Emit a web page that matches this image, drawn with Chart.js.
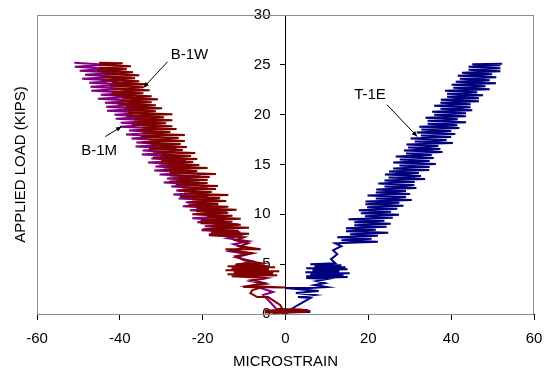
<!DOCTYPE html>
<html>
<head>
<meta charset="utf-8">
<script src="https://cdn.jsdelivr.net/npm/chart.js@4.4.1/dist/chart.umd.min.js"></script>
<style>
  html, body { margin: 0; padding: 0; background: #fff; }
</style>
</head>
<body>
<canvas id="chart" width="544" height="371"></canvas>
<script>
// Axis ticks
const strainTicks = [-60, -40, -20, 0, 20, 40, 60];
const loadTicks = [0, 5, 10, 15, 20, 25, 30];

// Gauge B-1W  [microstrain, load kips]
const b1wPoints = [
  [0,0],[-3,0.1],[5,0.2],[-5,0.15],[6,0.3],[-4.5,0.25],[5.5,0.4],[-5,0.35],[4,0.45],[-2,0.5],
  [-0.6,0.4],[-1.3,0.9],[-4.2,1.7],[-6.8,1.7],[-8.5,2.1],[-8,2.4],[-5.4,2.7],[-10.2,2.7],[0,2.65],
  [-9,2.8],[-5,3.1],[-8,3.4],[-4.5,3.6],[-13,3.8],[-2,3.9],[-14,4.0],[-3,4.1],[-12.5,4.2],[-1.5,4.3],
  [-14.5,4.4],[-4,4.5],[-13,4.6],[-2.5,4.7],[-14,4.8],[-5,4.9],[-12,5.0],[-6,5.1],[-10,5.4],[-12,5.8],
  [-8,6.1],[-13,6.4],[-14.5,6.5],[-6,6.5],[-11,6.8],[-9,7.1],[-12,7.4],[-10,7.7],
  [-18.5,7.9],[-8.8,8.05],[-18,8.2],[-11.3,8.35],[-20,8.5],[-8.8,8.65],[-18,8.8],[-10.8,8.95],
  [-20.5,9.1],[-12.8,9.25],[-20.5,9.4],[-10.8,9.55],[-19,9.7],[-12.8,9.85],[-22.5,10.0],[-13.8,10.15],
  [-21.5,10.3],[-11.8,10.45],[-21.5,10.6],[-13.8,10.75],[-23.5,10.9],[-16.3,11.05],[-23.5,11.2],[-14.3,11.35],
  [-22.5,11.5],[-15.8,11.65],[-25.5,11.8],[-13.8,11.95],[-24.5,12.1],[-17.8,12.25],[-26,12.4],[-16.8,12.55],
  [-25,12.7],[-16.3,12.85],[-26.5,13.0],[-18.8,13.15],[-28,13.3],[-18.8,13.45],[-26,13.6],[-18.3,13.75],
  [-28,13.9],[-16.8,14.05],[-28,14.2],[-21.3,14.35],[-29.5,14.5],[-18.8,14.65],[-28.5,14.8],[-20.8,14.95],
  [-30.5,15.1],[-22.3,15.25],[-30,15.4],[-21.3,15.55],[-32,15.7],[-22.8,15.85],[-30,16.0],[-21.8,16.15],
  [-32,16.3],[-24.8,16.45],[-33,16.6],[-23.8,16.75],[-32.5,16.9],[-25.3,17.05],[-34.5,17.2],[-24.3,17.35],
  [-33,17.5],[-25.8,17.65],[-35,17.8],[-24.3,17.95],[-34.5,18.1],[-27.8,18.25],[-35.5,18.4],[-26.3,18.55],
  [-34.5,18.7],[-27.3,18.85],[-37,19.0],[-28.8,19.15],[-36.5,19.3],[-27.3,19.45],[-36.5,19.6],[-29.3,19.75],
  [-38.5,19.9],[-27.3,20.05],[-38,20.2],[-31.3,20.35],[-39,20.5],[-29.8,20.65],[-38.5,20.8],[-31.3,20.95],
  [-40.5,21.1],[-32.3,21.25],[-40,21.4],[-30.8,21.55],[-39.5,21.7],[-32.3,21.85],[-42,22.0],[-34.3,22.15],
  [-42,22.3],[-32.8,22.45],[-41.5,22.6],[-34.3,22.75],[-42.5,22.9],[-33.3,23.05],[-42,23.2],[-35.3,23.35],
  [-44.5,23.5],[-36.3,23.65],[-44,23.8],[-35.3,23.95],[-44,24.1],[-36.8,24.25],[-45.5,24.4],[-38.3,24.55],
  [-45,24.7],[-37.3,24.85],[-45,25.0],[-39.3,25.15],[-45,25.2]
];

// Gauge B-1M
const b1mPoints = [
  [0,0],[-2,0.4],[-3.5,1.1],[-5.4,1.9],[-3,2.2],[-6,2.6],[-9,2.8],[-5,3.0],[-8.5,3.3],[-4.5,3.6],
  [-12,3.9],[-3,4.2],[-13,4.5],[-4,4.8],[-11,5.0],[-8,5.3],[-12,5.7],[-9,6.0],[-13.5,6.3],[-10,6.7],
  [-12.5,7.0],[-9,7.3],[-14,7.6],[-11,7.9],
  [-18.5,8.0],[-10.9,8.2],[-20.3,8.4],[-12.6,8.6],[-19.5,8.8],[-11.4,9.0],[-21.3,9.2],[-14.7,9.4],
  [-22.5,9.6],[-13.9,9.8],[-21.3,10.0],[-14.2,10.2],[-23.1,10.4],[-15.9,10.6],[-24.8,10.8],[-16.2,11.0],
  [-24.1,11.2],[-16,11.4],[-25.8,11.6],[-18.7,11.8],[-27.1,12.0],[-18.5,12.2],[-26.4,12.4],[-18.7,12.6],
  [-27.6,12.8],[-21,13.0],[-29.4,13.2],[-20.8,13.4],[-28.6,13.6],[-20.5,13.8],[-30.4,14.0],[-22.8,14.2],
  [-31.7,14.4],[-23,14.6],[-31.4,14.8],[-24.8,15.0],[-33.2,15.2],[-24.1,15.4],[-32.4,15.6],[-25.3,15.8],
  [-34.7,16.0],[-27.1,16.2],[-34.5,16.4],[-26.3,16.6],[-36.2,16.8],[-28.1,17.0],[-36,17.2],[-28.4,17.4],
  [-37.2,17.6],[-30.1,17.8],[-38.5,18.0],[-29.4,18.2],[-37.8,18.4],[-30.6,18.6],[-40,18.8],[-32.4,19.0],
  [-39.8,19.2],[-31.2,19.4],[-41,19.6],[-33.4,19.8],[-41.3,20.0],[-33.7,20.2],[-43.1,20.4],[-35.4,20.6],
  [-43.3,20.8],[-34.7,21.0],[-43.6,21.2],[-36.5,21.4],[-45.3,21.6],[-36.7,21.8],[-44.6,22.0],[-37,22.2],
  [-46.9,22.4],[-39.2,22.6],[-47.1,22.8],[-39,23.0],[-47.4,23.2],[-40.3,23.4],[-49.1,23.6],[-40.5,23.8],
  [-48.4,24.0],[-40.8,24.2],[-49.7,24.4],[-43,24.6],[-50.9,24.8],[-43.3,25.0],[-51,25.2]
];

// Gauge T-1E
const t1ePoints = [
  [0,0],[1,0.3],[3,0.2],[6,0.2],[2,0.3],[1.5,0.5],[3,0.9],[6,1.6],[3,1.7],[7,1.9],[2.5,2.1],[8,2.3],
  [4,2.45],[0,2.6],[6,2.6],[10,2.7],[7,2.9],[9.5,3.1],[7.5,3.3],[10,3.5],[5,3.6],
  [15,3.7],[5,3.8],[14,3.9],[6,4.0],[15.5,4.1],[4.8,4.2],[13,4.3],[6.5,4.4],[15,4.5],[5,4.6],
  [14.5,4.7],[7,4.8],[13.5,4.9],[6,5.0],[12,5.1],[11,5.5],[12.5,6.0],[11.5,6.4],[13.5,6.8],[12.5,7.0],
  [12,7.1],[22.3,7.25],[13.5,7.4],[20.8,7.55],[12.5,7.7],[22.3,7.85],[15.6,8.0],[24.8,8.15],
  [14.6,8.3],[21.8,8.45],[14.6,8.6],[24.4,8.75],[16.6,8.9],[25.4,9.05],[16.6,9.2],[23.9,9.35],
  [15.2,9.5],[25.9,9.65],[19.2,9.8],[27.4,9.95],[18.2,10.1],[25.5,10.25],[17.7,10.4],[27,10.55],
  [19.7,10.7],[28.5,10.85],[19.3,11.0],[27.5,11.15],[19.3,11.3],[30.5,11.45],[21.8,11.6],[29.1,11.75],
  [19.8,11.9],[30.1,12.05],[21.8,12.2],[29.1,12.35],[21.9,12.5],[31.6,12.65],[23.9,12.8],[31.1,12.95],
  [22.4,13.1],[31.2,13.25],[23.9,13.4],[33.7,13.55],[24.9,13.7],[32.7,13.85],[24,14.0],[32.2,14.15],
  [25,14.3],[34.7,14.45],[26,14.6],[34.8,14.75],[27.5,14.9],[36.3,15.05],[26,15.2],[34.8,15.35],
  [27.6,15.5],[35.8,15.65],[26.6,15.8],[35.3,15.95],[29.1,16.1],[37.9,16.25],[28.6,16.4],[37.4,16.55],
  [29.6,16.7],[36.9,16.85],[29.2,17.0],[40.4,17.15],[31.2,17.3],[38.9,17.45],[30.2,17.6],[40,17.75],
  [32.7,17.9],[41,18.05],[31.7,18.2],[40,18.35],[32.8,18.5],[42,18.65],[32.3,18.8],[41.5,18.95],
  [34.3,19.1],[43.6,19.25],[34.3,19.4],[41.6,19.55],[33.8,19.7],[43.6,19.85],[35.9,20.0],[43.6,20.15],
  [35.4,20.3],[45.1,20.45],[37.4,20.6],[44.7,20.75],[35.9,20.9],[44.7,21.05],[37.4,21.2],[46.7,21.35],
  [37.5,21.5],[46.7,21.65],[39,21.8],[47.7,21.95],[39,22.1],[46.3,22.25],[38.5,22.4],[49.3,22.55],
  [40.5,22.7],[48.3,22.85],[40.1,23.0],[50.8,23.15],[41.1,23.3],[49.3,23.45],[42.1,23.6],[50.9,23.75],
  [41.6,23.9],[49.9,24.05],[42.6,24.2],[51.9,24.35],[44.2,24.5],[51.9,24.65],[44.2,24.8],[51.9,24.95],
  [45.1,25.05],[52.3,25.1]
];

// Callout labels: text position and arrow (from -> to), in data units
const callouts = [
  { text: "B-1W", at: [-23.2, 26.0], from: [-28.5, 25.3], to: [-34.3, 22.7] },
  { text: "B-1M", at: [-45.0, 16.4], from: [-43.5, 17.8], to: [-39.6, 18.8] },
  { text: "T-1E", at: [20.4, 22.0], from: [24.5, 21.0], to: [31.8, 17.8] },
];

const FONT = "'Liberation Sans', Arial, sans-serif";

function toXY(points) {
  return points.map((p) => ({ x: p[0], y: p[1] }));
}

// plot frame, y title and callouts
const extras = {
  id: "extras",
  beforeDatasetsDraw(chart) {
    const { ctx, chartArea } = chart;
    ctx.save();
    ctx.strokeStyle = "#8c8c8c";
    ctx.lineWidth = 1;
    ctx.strokeRect(chartArea.left + 0.5, chartArea.top + 0.5,
      chartArea.right - chartArea.left - 1, chartArea.bottom - chartArea.top);
    ctx.restore();
  },
  afterDraw(chart) {
    const { ctx, chartArea, scales } = chart;
    const sx = scales.x, sy = scales.y;
    ctx.save();
    ctx.fillStyle = "#000";
    ctx.font = "15px " + FONT;

    // y axis title
    ctx.save();
    ctx.translate(21, (chartArea.top + chartArea.bottom) / 2);
    ctx.rotate(-Math.PI / 2);
    ctx.textAlign = "center";
    ctx.textBaseline = "middle";
    ctx.fillText("APPLIED LOAD (KIPS)", 0, 0);
    ctx.restore();

    ctx.textAlign = "center";
    ctx.textBaseline = "middle";
    ctx.strokeStyle = "#000";
    ctx.lineWidth = 1;
    callouts.forEach((c) => {
      ctx.fillText(c.text, sx.getPixelForValue(c.at[0]), sy.getPixelForValue(c.at[1]));
      const x1 = sx.getPixelForValue(c.from[0]), y1 = sy.getPixelForValue(c.from[1]);
      const x2 = sx.getPixelForValue(c.to[0]), y2 = sy.getPixelForValue(c.to[1]);
      ctx.beginPath();
      ctx.moveTo(x1, y1);
      ctx.lineTo(x2, y2);
      ctx.stroke();
      const a = Math.atan2(y2 - y1, x2 - x1);
      ctx.beginPath();
      ctx.moveTo(x2, y2);
      ctx.lineTo(x2 - 6 * Math.cos(a - 0.4), y2 - 6 * Math.sin(a - 0.4));
      ctx.lineTo(x2 - 6 * Math.cos(a + 0.4), y2 - 6 * Math.sin(a + 0.4));
      ctx.closePath();
      ctx.fill();
    });
    ctx.restore();
  },
};

new Chart(document.getElementById("chart"), {
  type: "line",
  data: {
    datasets: [
      { label: "B-1W", data: toXY(b1wPoints), borderColor: "#800000" },
      { label: "B-1M", data: toXY(b1mPoints), borderColor: "#800080" },
      { label: "T-1E", data: toXY(t1ePoints), borderColor: "#000080" },
    ],
  },
  options: {
    responsive: false,
    animation: false,
    events: [],
    layout: { padding: { left: 37, right: 10, top: 15, bottom: 0 } },
    elements: {
      line: { borderWidth: 2, tension: 0, fill: false },
      point: { radius: 0 },
    },
    plugins: { legend: { display: false }, tooltip: { enabled: false } },
    scales: {
      x: {
        type: "linear",
        position: "bottom",
        min: -60,
        max: 60,
        afterBuildTicks: (s) => { s.ticks = strainTicks.map((v) => ({ value: v })); },
        afterFit: (s) => { s.height = 57; s.paddingLeft = 0; s.paddingRight = 0; },
        grid: { display: true, drawOnChartArea: false, drawTicks: true, tickLength: 6, color: "#000" },
        border: { display: true, color: "#000", width: 1 },
        ticks: { color: "#000", font: { family: FONT, size: 15 }, padding: 10, maxRotation: 0 },
        title: { display: true, text: "MICROSTRAIN", color: "#000", font: { family: FONT, size: 15 }, padding: 0 },
      },
      y: {
        type: "linear",
        position: { x: 0 },
        min: 0,
        max: 30,
        afterBuildTicks: (s) => { s.ticks = loadTicks.map((v) => ({ value: v })); },
        afterFit: (s) => { s.width = 0; },
        grid: { display: true, drawOnChartArea: false, drawTicks: true, tickLength: 5, color: "#000" },
        border: { display: true, color: "#000", width: 1 },
        ticks: { color: "#000", font: { family: FONT, size: 15 }, padding: 6,
          callback: (v) => v + "\u2002\u2002" },
      },
    },
  },
  plugins: [extras],
});
</script>
</body>
</html>
